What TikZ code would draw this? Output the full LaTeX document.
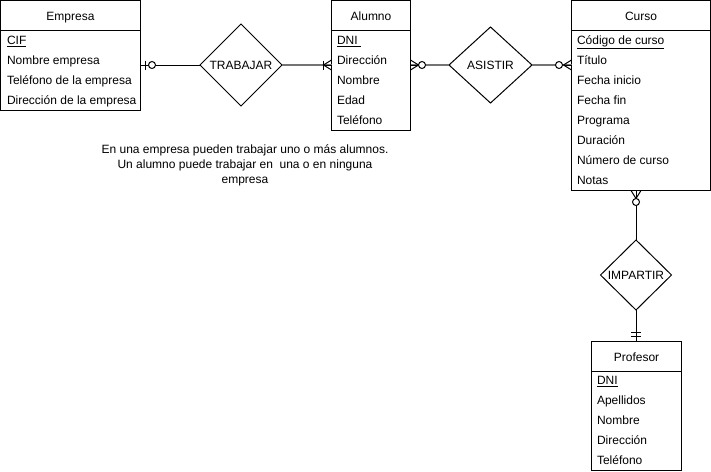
\documentclass[tikz,border=0pt]{standalone}
\usepackage{fontspec}
\setmainfont{Liberation Sans}
\usetikzlibrary{shapes.geometric,calc}
\begin{document}
\begin{tikzpicture}[x=1pt,y=-1pt,line width=1pt,
  font=\fontsize{12}{15}\selectfont,
  entity/.style={draw,rectangle,anchor=north west,inner sep=0pt,outer sep=0pt},
  title/.style={anchor=base,inner sep=0pt},
  attr/.style={anchor=base west,inner sep=0pt},
  rel/.style={draw,diamond,inner sep=0pt,outer sep=0pt},
  link/.style={draw=black},
  softlink/.style={draw=black!55,line width=1.5pt},
  tick/.style={draw=black,line width=1pt},
  ring/.style={draw=black,fill=white,line width=1pt}]
\useasboundingbox (0,0) rectangle (711,471);

% ---- entities ----
\node[entity,minimum width=140,minimum height=110] (empresa) at (0.5,0.5) {};
\node[entity,minimum width=79,minimum height=130] (alumno) at (331.5,0.5) {};
\node[entity,minimum width=139,minimum height=190] (curso) at (571.5,0.5) {};
\node[entity,minimum width=90,minimum height=129] (profesor) at (591.5,341.5) {};

% header separators
\foreach \e in {empresa,alumno,curso,profesor}
  \draw ($(\e.north west)+(0,30)$) -- ($(\e.north east)+(0,30)$);

% titles
\node[title] (empresa-t) at ($(empresa.north)+(0,19.5)$) {Empresa};
\node[title] (alumno-t) at ($(alumno.north)+(0,19.5)$) {Alumno};
\node[title] (curso-t) at ($(curso.north)+(0,19.5)$) {Curso};
\node[title] (profesor-t) at ($(profesor.north)+(0,19.5)$) {Profesor};

% attributes
\foreach \t [count=\i from 0] in {\underline{CIF},Nombre empresa,Teléfono de la empresa,Dirección de la empresa}
  \node[attr] (empresa-a\i) at ($(empresa.north west)+(6,44+20*\i)$) {\t};
\foreach \t [count=\i from 0] in {\underline{DNI\ },Dirección,Nombre,Edad,Teléfono}
  \node[attr] (alumno-a\i) at ($(alumno.north west)+(5,44+20*\i)$) {\t};
\foreach \t [count=\i from 0] in {\underline{Código de curso},Título,Fecha inicio,Fecha fin,Programa,Duración,Número de curso,Notas}
  \node[attr] (curso-a\i) at ($(curso.north west)+(5,44+20*\i)$) {\t};
\foreach \t [count=\i from 0] in {\underline{DNI},Apellidos,Nombre,Dirección,Teléfono}
  \node[attr] (profesor-a\i) at ($(profesor.north west)+(5,43+20*\i)$) {\t};

% ---- relationships ----
\node[rel,minimum width=82,minimum height=82] (trabajar) at (241,65) {TRABAJAR};
\node[rel,minimum width=83,minimum height=76] (asistir) at (490.5,65) {ASISTIR};
\node[rel,minimum width=71,minimum height=70] (impartir) at (636,275) {IMPARTIR};

% ---- connector end points ----
\coordinate (c1) at (trabajar.west -| empresa.east);
\coordinate (c2) at (trabajar.east -| alumno.west);
\coordinate (c3) at (asistir.west -| alumno.east);
\coordinate (c4) at (asistir.east -| curso.west);
\coordinate (c5) at (impartir.north |- curso.south);
\coordinate (c6) at (impartir.south |- profesor.north);

% ---- connectors ----
\draw[link] (c1) -- (trabajar.west);
\draw[softlink] (trabajar.east) -- (c2);
\draw[softlink] (c3) -- (asistir.west);
\draw[softlink] (asistir.east) -- (c4);
\draw[link] (c5) -- (impartir.north);
\draw[link] (impartir.south) -- (c6);

% Empresa side: zero or one
\draw[tick] ($(c1)+(5,-4.5)$) -- ($(c1)+(5,4.5)$);
\draw[ring] ($(c1)+(11.5,0)$) circle (3.5);

% Alumno side of TRABAJAR: one or many
\draw[tick] ($(c2)+(0,-5)$) -- ($(c2)+(-8,0)$) -- ($(c2)+(0,5)$);
\draw[tick] ($(c2)+(-8,0)$) -- (c2);
\draw[tick] ($(c2)+(-8,-4.5)$) -- ($(c2)+(-8,4.5)$);

% Alumno side of ASISTIR: zero or many
\draw[tick] ($(c3)+(0,-5)$) -- ($(c3)+(8,0)$) -- ($(c3)+(0,5)$);
\draw[tick] (c3) -- ($(c3)+(8,0)$);
\draw[ring] ($(c3)+(11.5,0)$) circle (3.5);

% Curso side of ASISTIR: zero or many
\draw[tick] ($(c4)+(0,-5)$) -- ($(c4)+(-8,0)$) -- ($(c4)+(0,5)$);
\draw[tick] (c4) -- ($(c4)+(-8,0)$);
\draw[ring] ($(c4)+(-12.5,0)$) circle (3.5);

% Curso side of IMPARTIR: zero or many
\draw[tick] ($(c5)+(-5,0)$) -- ($(c5)+(0,8)$) -- ($(c5)+(5,0)$);
\draw[ring] ($(c5)+(0,11.5)$) circle (3.5);

% Profesor side: one and only one
\draw[tick] ($(c6)+(-5,-9)$) -- ($(c6)+(5,-9)$);
\draw[tick] ($(c6)+(-5,-5.5)$) -- ($(c6)+(5,-5.5)$);

% ---- note ----
\node[align=center,inner sep=0pt] (note) at (245,165)
  {En una empresa pueden trabajar uno o más alumnos.\\
   Un alumno puede trabajar en\ \ una o en ninguna\\
   empresa};
\end{tikzpicture}
\end{document}
